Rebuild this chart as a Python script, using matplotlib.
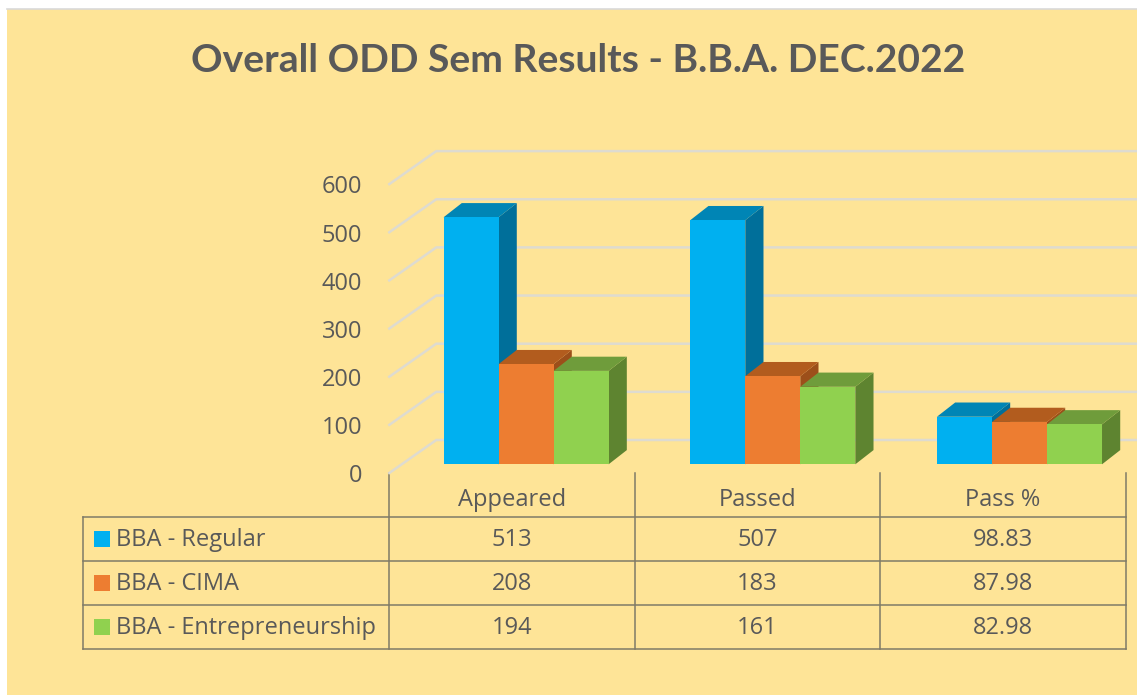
import matplotlib
matplotlib.use('Agg')
import matplotlib.pyplot as plt
from matplotlib.patches import Polygon, Rectangle
from matplotlib.transforms import ScaledTranslation

categories = ['Appeared', 'Passed', 'Pass %']
series_names = ['BBA - Regular', 'BBA - CIMA', 'BBA - Entrepreneurship']
regular = [513, 507, 98.83]
cima = [208, 183, 87.98]
entrepreneurship = [194, 161, 82.98]
y_ticks = [0, 100, 200, 300, 400, 500, 600]

front_colors = ['#00B0F0', '#ED7D31', '#90D14F']
top_colors = ['#0085B5', '#B25C1E', '#6F9C3B']
side_colors = ['#006F9A', '#9C4F1A', '#5E8430']
text_color = '#595959'
line_color = '#7F7B68'
grid_color = '#DEDBD0'
bg_color = '#FEE497'
label_size = 17

W, H = 1137, 695
plt.rcParams['font.family'] = ['Open Sans', 'DejaVu Sans']

fig = plt.figure(figsize=(W / 100, H / 100), dpi=100, facecolor='white')

# full figure axes in pixels, for the background, title and table
page = fig.add_axes([0, 0, 1, 1], zorder=0)
page.set_xlim(0, W)
page.set_ylim(H, 0)
page.axis('off')
page.add_patch(Rectangle((7, 9), W - 7, H - 9, facecolor=bg_color, edgecolor='none'))
page.plot([7, W], [9, 9], color='#D9D9D9', lw=1.2)
page.text(578, 60, 'Overall ODD Sem Results - B.B.A. DEC.2022', fontsize=28.1,
          fontweight='bold', family=['Lato', 'DejaVu Sans'], color=text_color, ha='center', va='center')

# table
col_x = [389.3, 635, 880, 1125.5]
row_y = [516.7, 560.7, 604.7, 649.3]
left_x = 83.3
for y in row_y:
    page.plot([left_x, col_x[-1]], [y, y], color=line_color, lw=1.1, solid_capstyle='projecting')
page.plot([left_x, left_x], [row_y[0], row_y[-1]], color=line_color, lw=1.1)
for x in col_x:
    page.plot([x, x], [473, row_y[-1]], color=line_color, lw=1.1)

rows = [regular, cima, entrepreneurship]
for i, cat in enumerate(categories):
    cx = (col_x[i] + col_x[i + 1]) / 2
    page.text(cx, 500, cat, fontsize=label_size, color=text_color, ha='center', va='center')
    for j, row in enumerate(rows):
        page.text(cx, (row_y[j] + row_y[j + 1]) / 2 + 1, f'{row[i]:g}', fontsize=label_size,
                  color=text_color, ha='center', va='center')
for j, name in enumerate(series_names):
    cy = (row_y[j] + row_y[j + 1]) / 2
    page.add_patch(Rectangle((94, cy - 8), 16, 16, facecolor=front_colors[j], edgecolor='none'))
    page.text(116, cy + 1, name, fontsize=label_size, color=text_color, ha='left', va='center')

# chart axes, y 0-600 and three category slots
ax_left, ax_right = 389.3, 1129.4
ax_bottom, ax_top = 464.3, 175.4
ax = fig.add_axes([ax_left / W, 1 - ax_bottom / H, (ax_right - ax_left) / W, (ax_bottom - ax_top) / H],
                  zorder=1)
ax.patch.set_alpha(0)
ax.set_xlim(-0.5, 2.5)
ax.set_ylim(0, 600)
for s in ax.spines.values():
    s.set_visible(False)
ax.set_xticks([])
ax.set_yticks(y_ticks)
ax.tick_params(axis='y', length=0, pad=19.5, labelsize=label_size, labelcolor=text_color)
shift = ScaledTranslation(0, -9 / 100, fig.dpi_scale_trans)
for label in ax.get_yticklabels():
    label.set_transform(label.get_transform() + shift)

# pixel sizes in data units
ux = 3 / (ax_right - ax_left)
uy = 600 / (ax_bottom - ax_top)

# side wall and back wall gridlines
x_edge = -0.5 + (W - ax_left) * ux
for v in y_ticks:
    ax.plot([-0.5, -0.5 + 47 * ux, x_edge],
            [v - 8.7 * uy, v + 24.3 * uy, v + 24.3 * uy],
            color=grid_color, lw=1.8, clip_on=False, zorder=1, solid_joinstyle='miter')

# 3d bars
bar_w = 0.223
dx = 18.2 * ux
dy = 14.2 * uy
offsets = [-1.5 * bar_w + 0.0545, -0.5 * bar_w + 0.0545, 0.5 * bar_w + 0.0545]
for i in range(len(categories)):
    for j, row in enumerate(rows):
        x0 = i + offsets[j]
        x1 = x0 + bar_w
        v = row[i]
        ax.add_patch(Polygon([(x1, 0), (x1 + dx, dy), (x1 + dx, v + dy), (x1, v)],
                             facecolor=side_colors[j], edgecolor='none', zorder=2 + j, clip_on=False))
        ax.add_patch(Polygon([(x0, v), (x0 + dx, v + dy), (x1 + dx, v + dy), (x1, v)],
                             facecolor=top_colors[j], edgecolor='none', zorder=2 + j, clip_on=False))
        ax.bar(x0, v, width=bar_w, align='edge', color=front_colors[j], zorder=2 + j, clip_on=False)

fig.savefig('out.png', dpi=100)
